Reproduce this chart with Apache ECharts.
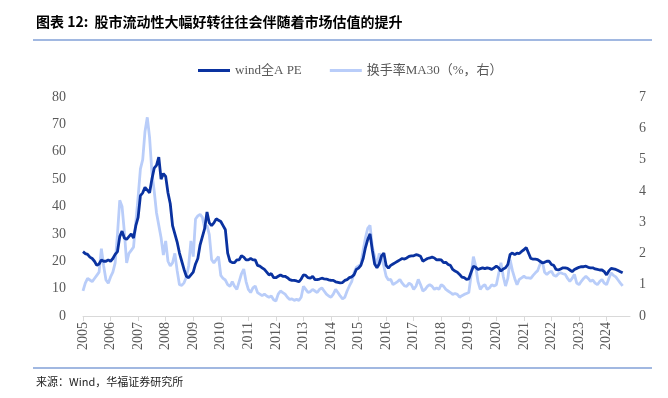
<!DOCTYPE html>
<html>
<head>
<meta charset="utf-8">
<script src="https://cdn.jsdelivr.net/npm/echarts@6/dist/echarts.min.js"></script>
<style>
body{margin:0;background:#fff;}
#chart{width:668px;height:398px;}
</style>
</head>
<body>
<div id="chart"></div>
<script>
// monthly, from 2005-01 to 2024-08
const startYear = 2005;
const years = [2005,2006,2007,2008,2009,2010,2011,2012,2013,2014,2015,2016,2017,2018,2019,2020,2021,2022,2023,2024];
const peTicks = [0,10,20,30,40,50,60,70,80];
const turnoverTicks = [0,1,2,3,4,5,6,7];

// wind全A PE
const pe = [
  23.5,22.8,22.5,21.5,21,20,18.5,19,20.5,20,20,20.5,
  20,21,22.5,23.5,29,31,28.5,28,29,30,28.5,33,
  36,44,45,47,46,45,50,54,55,58,50,52,
  51,45,41,33,30,27,23,20,17,14.5,14,15,
  16,19,21,26,29,32,38,34,33,34,35.5,35,
  34.5,33,31.5,23,20,19.5,19.5,20.5,20.5,22,21.5,20.5,
  20.5,21,20.5,20.5,18.5,18.2,17.6,17,16,15,15.5,14,
  14,14.5,15,14.5,14.5,14,13.3,13,13,12.8,12.5,13.5,
  15,14.8,14,13.8,14.5,13.3,13.3,13.5,13.8,13.6,13.5,13.2,
  13,13,12.5,12.3,12.1,12.2,13,13.3,14,14.3,15,17,
  17.5,18.5,21,25,28,30,24,19,17.6,19,22,23,
  18.5,17.5,18.5,19,19.5,20,20.5,21,20.8,21.2,21.8,22,
  22,22.4,22.2,21.8,20,20.5,21,21.2,21.5,21.2,20.5,20.6,
  20.5,19.5,19.6,18.8,18.5,17,16.4,16,15.2,14.2,14,13.4,
  13.6,16,18.2,17.8,17,17.3,17.6,17.3,17.6,17.4,17,17.6,
  18.2,17.6,16.4,17.2,17.6,18.8,22.5,23,22.4,23,22.8,23.6,
  24.2,25,23,21,20.8,20.8,20.6,20,19.4,19.6,20,20,
  18.8,18.5,17,16.8,17.2,17.6,17.6,17.4,16.8,16.2,17,17.4,
  17.8,18,18,18.2,17.8,17.6,17.6,17.2,17,16.8,16.8,16.2,
  15,16.5,17.4,17.2,17,16.6,16.2,15.8
];

// 换手率MA30 (%)
const turnover = [
  0.8,1.05,1.2,1.15,1.1,1.2,1.3,1.4,2.15,1.6,1.15,1.05,
  1.25,1.4,1.7,2.6,3.7,3.5,2.7,1.7,2.0,2.1,2.2,3.0,
  3.8,4.7,5.0,5.9,6.35,5.7,4.6,4.0,3.3,2.9,2.5,1.95,
  2.4,1.75,1.6,1.7,2.0,1.45,1.0,0.98,1.06,1.25,1.6,2.4,
  1.9,3.1,3.2,3.25,3.15,2.8,2.9,2.6,1.8,1.7,1.8,1.9,
  1.3,1.2,1.15,1.0,0.95,1.1,0.95,0.85,1.1,1.35,1.5,1.1,
  0.85,0.75,0.9,0.96,0.75,0.7,0.65,0.7,0.64,0.6,0.64,0.52,
  0.48,0.7,0.8,0.75,0.7,0.6,0.53,0.55,0.5,0.53,0.5,0.6,
  0.95,0.85,0.75,0.78,0.85,0.8,0.75,0.85,0.9,0.8,0.7,0.64,
  0.6,0.7,0.85,0.75,0.64,0.55,0.6,0.8,0.96,1.1,1.38,1.55,
  1.6,1.65,2.1,2.5,2.8,2.9,2.2,1.9,1.6,2.0,1.85,1.6,
  1.27,1.15,1.17,1.0,1.05,1.1,1.17,1.05,0.96,0.95,1.05,1.0,
  0.85,0.95,1.17,1.0,0.8,0.85,0.95,1.0,0.95,0.85,0.9,0.85,
  1.0,0.95,0.85,0.8,0.75,0.69,0.72,0.69,0.6,0.65,0.69,0.72,
  0.75,1.3,1.9,1.6,1.1,0.85,0.95,1.0,0.85,0.9,1.0,0.96,
  1.0,1.35,1.7,1.27,0.96,1.2,1.8,1.45,1.2,1.0,1.17,1.22,
  1.27,1.22,1.22,1.2,1.3,1.38,1.45,1.65,1.75,1.4,1.33,1.4,
  1.43,1.3,1.27,1.35,1.38,1.35,1.33,1.2,1.11,1.2,1.33,1.05,
  1.0,1.11,1.2,1.27,1.2,1.11,1.15,1.05,1.0,1.1,1.17,1.05,
  1.0,1.2,1.38,1.3,1.25,1.15,1.05,0.96
];

const serif = '"Liberation Serif", "Noto Sans CJK SC", serif';
const toPoints = arr => arr.map((v, i) => [startYear + i / 12, v]);

const chart = echarts.init(document.getElementById('chart'));
const option = {
  animation: false,
  backgroundColor: '#fff',
  graphic: [
    {
      type: 'text', left: 36, top: 15,
      style: {
        text: '图表 12:  股市流动性大幅好转往往会伴随着市场估值的提升',
        font: 'bold 14px "Noto Sans CJK SC", sans-serif', fill: '#000'
      }
    },
    { type: 'line', shape: { x1: 33, y1: 40, x2: 652, y2: 40 }, style: { stroke: '#4472C4', lineWidth: 1.2 } },
    { type: 'line', shape: { x1: 33, y1: 368, x2: 652, y2: 368 }, style: { stroke: '#4472C4', lineWidth: 1.2 } },
    {
      type: 'text', left: 36, top: 376,
      style: { text: '来源：Wind，华福证券研究所', font: '11px "Noto Sans CJK SC", sans-serif', fill: '#222' }
    }
  ],
  legend: {
    top: 59, left: 193,
    itemWidth: 32, itemHeight: 3, itemGap: 28,
    icon: 'rect',
    textStyle: { fontFamily: serif, fontSize: 13, color: '#595959' },
    data: ['wind全A PE', '换手率MA30（%，右）']
  },
  grid: { left: 83, right: 38, top: 97, bottom: 82 },
  xAxis: {
    type: 'value', min: 2005, max: 2024.85, interval: 1,
    axisLine: { lineStyle: { color: '#d9d9d9' } },
    axisTick: { show: true, customValues: years, length: 5, lineStyle: { color: '#d9d9d9' } },
    axisLabel: {
      customValues: years, rotate: 90, margin: 6,
      fontFamily: serif, fontSize: 14, color: '#595959',
      formatter: v => String(v)
    },
    splitLine: { show: false }
  },
  yAxis: [
    {
      type: 'value', min: 0, max: 80, interval: 10,
      axisLine: { show: false }, axisTick: { show: false }, splitLine: { show: false },
      axisLabel: { margin: 17, fontFamily: serif, fontSize: 14, color: '#595959' }
    },
    {
      type: 'value', min: 0, max: 7, interval: 1,
      axisLine: { show: false }, axisTick: { show: false }, splitLine: { show: false },
      axisLabel: { margin: 9, fontFamily: serif, fontSize: 14, color: '#595959' }
    }
  ],
  series: [
    {
      name: 'wind全A PE', type: 'line', yAxisIndex: 0, z: 3,
      showSymbol: false, symbol: 'none',
      itemStyle: { color: '#0A32A0' },
      lineStyle: { color: '#0A32A0', width: 2.8 },
      data: toPoints(pe)
    },
    {
      name: '换手率MA30（%，右）', type: 'line', yAxisIndex: 1, z: 2,
      showSymbol: false, symbol: 'none',
      itemStyle: { color: '#B9CDF9' },
      lineStyle: { color: '#B9CDF9', width: 2.8 },
      data: toPoints(turnover)
    }
  ]
};
chart.setOption(option);
</script>
</body>
</html>
